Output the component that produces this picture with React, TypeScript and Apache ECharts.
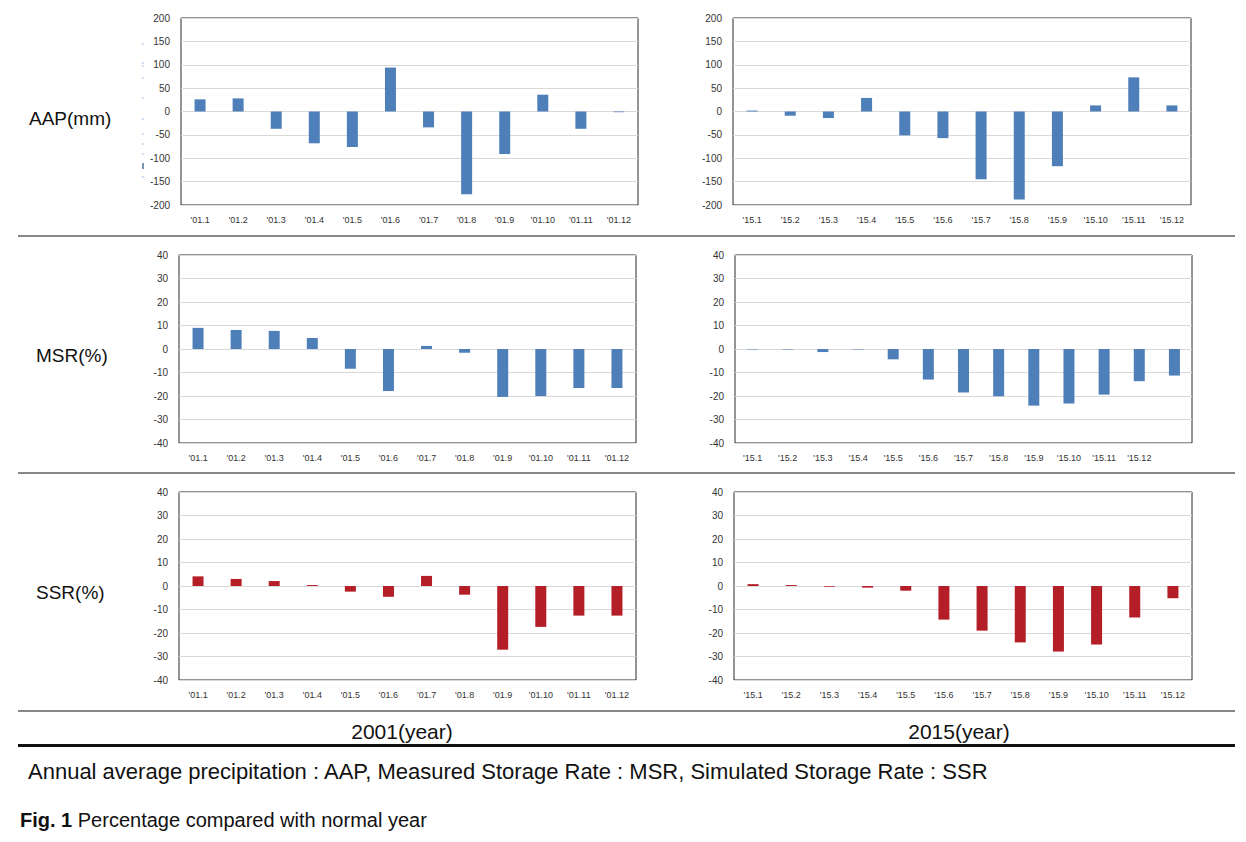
import React, { useEffect, useRef } from "react";
import * as echarts from "echarts";

const cats2001 = ["'01.1", "'01.2", "'01.3", "'01.4", "'01.5", "'01.6", "'01.7", "'01.8", "'01.9", "'01.10", "'01.11", "'01.12"];
const cats2015 = ["'15.1", "'15.2", "'15.3", "'15.4", "'15.5", "'15.6", "'15.7", "'15.8", "'15.9", "'15.10", "'15.11", "'15.12"];
// the measured 2015 panel carries one extra, unlabelled slot
const cats2015Msr = [...cats2015, ""];

const aap2001 = [26, 28, -37, -68, -76, 94, -34, -177, -91, 36, -37, -1.5];
const aap2015 = [2, -9, -14, 29, -51, -57, -145, -188, -117, 13, 73, 13];
const msr2001 = [9, 8.1, 7.7, 4.7, -8.4, -17.9, 1.3, -1.6, -20.4, -20, -16.6, -16.6];
const msr2015 = [-0.2, -0.2, -1.3, -0.2, -4.4, -13, -18.5, -20.1, -24.1, -23.2, -19.4, -13.7, -11.3];
const ssr2001 = [4.1, 3, 2.1, 0.4, -2.4, -4.6, 4.3, -3.7, -27.1, -17.4, -12.6, -12.6];
const ssr2015 = [0.8, 0.4, -0.3, -0.7, -2, -14.3, -19, -24, -27.9, -24.9, -13.4, -5.2];

const rowLabels = ["AAP(mm)", "MSR(%)", "SSR(%)"];
const yearLabels = ["2001(year)", "2015(year)"];
const noteText = "Annual average precipitation : AAP, Measured Storage Rate : MSR, Simulated Storage Rate : SSR";
const figLabel = "Fig. 1";
const figText = " Percentage compared with normal year";

const BLUE = "#4f7fb9";
const RED = "#b41f27";
const FONT = "Liberation Sans, Arial, sans-serif";

const panels = [
  { cats: cats2001, data: aap2001, min: -200, max: 200, step: 50, color: BLUE, grid: { left: 181, top: 18, width: 457, height: 187 } },
  { cats: cats2015, data: aap2015, min: -200, max: 200, step: 50, color: BLUE, grid: { left: 733, top: 18, width: 458, height: 187 } },
  { cats: cats2001, data: msr2001, min: -40, max: 40, step: 10, color: BLUE, grid: { left: 179, top: 255, width: 457, height: 188 } },
  { cats: cats2015Msr, data: msr2015, min: -40, max: 40, step: 10, color: BLUE, grid: { left: 735, top: 255, width: 457, height: 188 } },
  { cats: cats2001, data: ssr2001, min: -40, max: 40, step: 10, color: RED, grid: { left: 179, top: 492, width: 457, height: 188 } },
  { cats: cats2015, data: ssr2015, min: -40, max: 40, step: 10, color: RED, grid: { left: 734, top: 492, width: 458, height: 188 } },
];

// faint scan marks left of the first panel's axis labels
const speckY = [43, 62, 65, 77, 97, 118, 133, 143, 153, 176];

export default function App() {
  const ref = useRef<HTMLDivElement>(null);
  useEffect(() => {
    if (!ref.current) return;
    const chart = echarts.init(ref.current, undefined, { renderer: "svg" });
    const grid = panels.map((p) => ({
      ...p.grid,
      show: true,
      borderColor: "#2b2b2b",
      borderWidth: 1,
      backgroundColor: "#fff",
      containLabel: false,
    }));
    const xAxis = panels.map((p, i) => ({
      type: "category",
      gridIndex: i,
      data: p.cats,
      position: "bottom",
      axisLine: { show: false, onZero: false },
      axisTick: { show: false },
      axisLabel: { fontSize: 9, color: "#333", fontFamily: FONT, margin: 10, interval: 0 },
      splitLine: { show: false },
    }));
    const yAxis = panels.map((p, i) => ({
      type: "value",
      gridIndex: i,
      min: p.min,
      max: p.max,
      interval: p.step,
      axisLine: { show: false },
      axisTick: { show: false },
      axisLabel: { fontSize: 10, color: "#333", fontFamily: FONT, margin: 11 },
      splitLine: { show: true, lineStyle: { color: "#d9d9d9", width: 1 } },
    }));
    const series = panels.map((p, i) => ({
      type: "bar",
      xAxisIndex: i,
      yAxisIndex: i,
      data: p.data,
      barWidth: 11,
      itemStyle: { color: p.color },
    }));

    const graphic: any[] = [];
    const rowY = [120, 357, 594];
    rowLabels.forEach((t, i) => {
      graphic.push({
        type: "text",
        left: i === 0 ? 29 : 36,
        top: rowY[i] - 11,
        style: { text: t, font: `19px ${FONT}`, fill: "#111" },
      });
    });
    speckY.forEach((y, i) => {
      graphic.push({
        type: "rect",
        shape: { x: 142, y, width: 1.5, height: i === 9 ? 2 : 2 },
        style: { fill: "#b9d3ec" },
      });
    });
    graphic.push({
      type: "rect",
      shape: { x: 142, y: 163, width: 2, height: 6 },
      style: { fill: "#7d93b8" },
    });
    [236, 473, 711].forEach((y) => {
      graphic.push({
        type: "line",
        shape: { x1: 18, y1: y, x2: 1235, y2: y },
        style: { stroke: "#111", lineWidth: 1.2 },
      });
    });
    graphic.push({
      type: "rect",
      shape: { x: 18, y: 744, width: 1217, height: 3 },
      style: { fill: "#111" },
    });
    graphic.push({
      type: "text",
      x: 402,
      y: 731,
      style: { text: yearLabels[0], font: `21px ${FONT}`, fill: "#111", align: "center", verticalAlign: "middle" },
    });
    graphic.push({
      type: "text",
      x: 959,
      y: 731,
      style: { text: yearLabels[1], font: `21px ${FONT}`, fill: "#111", align: "center", verticalAlign: "middle" },
    });
    graphic.push({
      type: "text",
      x: 28,
      y: 771,
      style: { text: noteText, font: `22px ${FONT}`, fill: "#111", verticalAlign: "middle" },
    });
    graphic.push({
      type: "text",
      x: 20,
      y: 820,
      style: {
        text: `{b|${figLabel}}{n|${figText}}`,
        verticalAlign: "middle",
        rich: {
          b: { font: `bold 20px ${FONT}`, fill: "#111" },
          n: { font: `20px ${FONT}`, fill: "#111" },
        },
      },
    });

    chart.setOption({
      animation: false,
      backgroundColor: "#fff",
      grid,
      xAxis,
      yAxis,
      series,
      graphic,
    });
    return () => chart.dispose();
  }, []);
  return (
    <div
      ref={ref}
      style={{ position: "absolute", left: 0, top: 0, width: 1246, height: 842, background: "#fff" }}
    />
  );
}
